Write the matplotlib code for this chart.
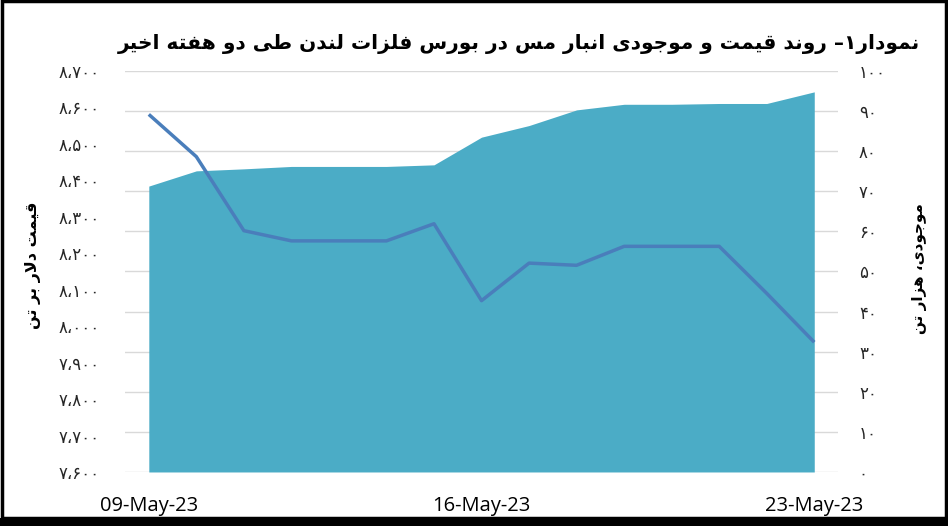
import matplotlib
matplotlib.use('Agg')
import matplotlib.pyplot as plt
from matplotlib.ticker import FuncFormatter, FixedLocator
from matplotlib.patches import Rectangle

# data
dates = ['09-May-23', '10-May-23', '11-May-23', '12-May-23', '13-May-23',
         '14-May-23', '15-May-23', '16-May-23', '17-May-23', '18-May-23',
         '19-May-23', '20-May-23', '21-May-23', '22-May-23', '23-May-23']
price = [8581, 8465, 8262, 8234, 8234, 8234, 8281, 8070,
         8173, 8167, 8219, 8219, 8219, 8090, 7956]
stock = [71.3, 75.1, 75.6, 76.2, 76.2, 76.2, 76.6, 83.5,
         86.4, 90.3, 91.7, 91.7, 91.9, 91.9, 94.8]

title = 'نمودار۱– روند قیمت و موجودی انبار مس در بورس فلزات لندن طی دو هفته اخیر'
left_label = 'قیمت دلار بر تن'
right_label = 'موجودی، هزار تن'

# tiny arabic shaper (matplotlib has no text shaping): isolated, final, initial, medial
FORMS = {
    'ا': ('\uFE8D', '\uFE8E', None, None),
    'ب': ('\uFE8F', '\uFE90', '\uFE91', '\uFE92'),
    'ت': ('\uFE95', '\uFE96', '\uFE97', '\uFE98'),
    'ج': ('\uFE9D', '\uFE9E', '\uFE9F', '\uFEA0'),
    'خ': ('\uFEA5', '\uFEA6', '\uFEA7', '\uFEA8'),
    'د': ('\uFEA9', '\uFEAA', None, None),
    'ر': ('\uFEAD', '\uFEAE', None, None),
    'ز': ('\uFEAF', '\uFEB0', None, None),
    'س': ('\uFEB1', '\uFEB2', '\uFEB3', '\uFEB4'),
    'ط': ('\uFEC1', '\uFEC2', '\uFEC3', '\uFEC4'),
    'ف': ('\uFED1', '\uFED2', '\uFED3', '\uFED4'),
    'ق': ('\uFED5', '\uFED6', '\uFED7', '\uFED8'),
    'ل': ('\uFEDD', '\uFEDE', '\uFEDF', '\uFEE0'),
    'م': ('\uFEE1', '\uFEE2', '\uFEE3', '\uFEE4'),
    'ن': ('\uFEE5', '\uFEE6', '\uFEE7', '\uFEE8'),
    'ه': ('\uFEE9', '\uFEEA', '\uFEEB', '\uFEEC'),
    'و': ('\uFEED', '\uFEEE', None, None),
    'ی': ('\uFEEF', '\uFEF0', '\uFEF3', '\uFEF4'),
}
DIGITS = '۰۱۲۳۴۵۶۷۸۹'


def shape(s):
    out = []
    i = 0
    while i < len(s):
        c = s[i]
        if c not in FORMS:
            out.append(c)
            i += 1
            continue
        prev = s[i - 1] if i > 0 else ''
        pj = prev in FORMS and FORMS[prev][2] is not None
        if c == 'ل' and i + 1 < len(s) and s[i + 1] == 'ا':
            out.append('\uFEFC' if pj else '\uFEFB')
            i += 2
            continue
        nxt = s[i + 1] if i + 1 < len(s) else ''
        nj = nxt in FORMS and FORMS[c][2] is not None
        iso, fin, ini, med = FORMS[c]
        if pj and nj:
            out.append(med)
        elif pj:
            out.append(fin)
        elif nj:
            out.append(ini)
        else:
            out.append(iso)
        i += 1
    # visual order: reverse, keeping digit runs left to right
    runs = []
    for ch in out:
        if ch in DIGITS and runs and runs[-1][0] in DIGITS:
            runs[-1] += ch
        else:
            runs.append(ch)
    return ''.join(reversed(runs))


def fa_num(v, pos=None):
    s = f'{int(round(v)):,}'.replace(',', '،')
    return ''.join(DIGITS[int(ch)] if ch.isdigit() else ch for ch in s)


plt.rcParams['font.family'] = ['DejaVu Sans']

fig = plt.figure(figsize=(9.48, 5.26), dpi=100)
ax = fig.add_axes([0.1319, 0.1027, 0.7521, 0.7623])
ax2 = ax.twinx()

x = list(range(len(dates)))

# stock as area on the right axis, drawn under the price line
ax2.fill_between(x, 0, stock, color='#4BACC6', linewidth=0, zorder=2)
ax2.set_ylim(0, 100)
ax2.yaxis.set_major_locator(FixedLocator(range(0, 101, 10)))
ax2.yaxis.set_major_formatter(FuncFormatter(fa_num))
ax2.grid(axis='y', color='#D9D9D9', linewidth=1)
ax2.set_axisbelow(True)

ax.plot(x, price, color='#4A7EBB', linewidth=2.5, solid_capstyle='butt', zorder=3)
ax.set_ylim(7600, 8700)
ax.yaxis.set_major_locator(FixedLocator(range(7600, 8701, 100)))
ax.yaxis.set_major_formatter(FuncFormatter(fa_num))
ax.set_zorder(ax2.get_zorder() + 1)
ax.patch.set_visible(False)

ax.set_xlim(-0.5, len(dates) - 0.5)
ax.set_xticks(x[::7])
ax.set_xticklabels(dates[::7], fontsize=14.5, fontfamily='Open Sans')

for a in (ax, ax2):
    for sp in a.spines.values():
        sp.set_visible(False)
    a.tick_params(length=0)
ax.tick_params(axis='y', labelsize=12, pad=18, labelcolor='#262626')
ax2.tick_params(axis='y', labelsize=12, pad=15, labelcolor='#262626')
ax.tick_params(axis='x', pad=17)
for lab in ax2.get_yticklabels():
    lab.set_horizontalalignment('left')

fig.text(0.547, 0.916, shape(title), ha='center', va='center',
         fontsize=14.5, fontweight='bold')
fig.text(0.035, 0.496, shape(left_label), rotation=90, ha='center', va='center',
         fontsize=11.5, fontweight='bold')
fig.text(0.970, 0.489, shape(right_label), rotation=90, ha='center', va='center',
         fontsize=11, fontweight='bold')

# black frame round the picture
fig.add_artist(Rectangle((0.0016, 0.0152), 0.9968, 0.9820, transform=fig.transFigure,
                         fill=False, edgecolor='black', linewidth=2.5))
fig.add_artist(Rectangle((0, 0), 1, 0.016, transform=fig.transFigure,
                         facecolor='black', edgecolor='none'))

fig.savefig('out.png', dpi=100)
